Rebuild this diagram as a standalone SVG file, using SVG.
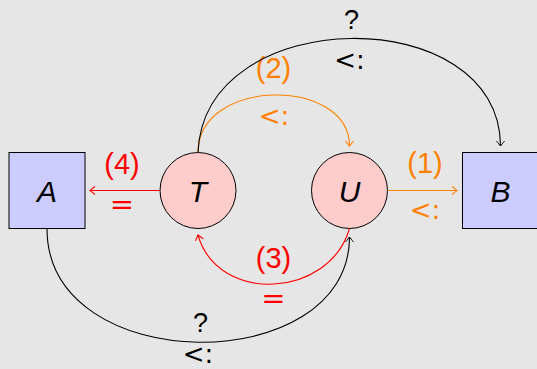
<svg xmlns="http://www.w3.org/2000/svg" width="537" height="369" viewBox="0 0 537 369">
<style>
.bg{fill:#e6e6e6}
.box{fill:#ccccff;stroke:#000;stroke-width:1}
.circ{fill:#ffcccc;stroke:#000;stroke-width:1}
.nl{font-family:"Liberation Sans",Arial,sans-serif;font-style:italic;font-size:30px;text-anchor:middle;fill:#000}
.e{fill:none;stroke-width:1.1}
.k{stroke:#000}
.o{stroke:#ff8000}
.r{stroke:#ff0000}
.lbl{font-family:"Liberation Sans",Arial,sans-serif;font-size:29px;text-anchor:middle}
.q{font-family:"Liberation Sans",Arial,sans-serif;font-size:27px;text-anchor:middle}
.op{font-family:"DejaVu Sans",sans-serif;font-size:26px;text-anchor:middle}
.eq{font-family:"DejaVu Sans",sans-serif;font-size:29px;text-anchor:middle}
.fk{fill:#000}
.fo{fill:#ff8000}
.fr{fill:#ff0000}
</style>
<defs>
<marker id="ak" markerUnits="userSpaceOnUse" markerWidth="12" markerHeight="12" refX="0" refY="0" orient="auto" overflow="visible"><path d="M-5,-4 C-3,-2.5 -1,-0.8 0,0 C-1,0.8 -3,2.5 -5,4" fill="none" stroke="#000" stroke-width="1"/></marker>
<marker id="ao" markerUnits="userSpaceOnUse" markerWidth="12" markerHeight="12" refX="0" refY="0" orient="auto" overflow="visible"><path d="M-5,-4 C-3,-2.5 -1,-0.8 0,0 C-1,0.8 -3,2.5 -5,4" fill="none" stroke="#ff8000" stroke-width="1.1"/></marker>
<marker id="ar" markerUnits="userSpaceOnUse" markerWidth="12" markerHeight="12" refX="0" refY="0" orient="auto" overflow="visible"><path d="M-5,-4 C-3,-2.5 -1,-0.8 0,0 C-1,0.8 -3,2.5 -5,4" fill="none" stroke="#ff0000" stroke-width="1.1"/></marker>
</defs>
<rect class="bg" x="0" y="0" width="537" height="369"/>
<g id="A"><rect class="box" x="9" y="152.5" width="76" height="76"/><text class="nl" x="47" y="201.5">A</text></g>
<g id="T"><circle class="circ" cx="198" cy="190.5" r="38"/><text class="nl" x="198" y="201.5">T</text></g>
<g id="U"><circle class="circ" cx="349.5" cy="190.5" r="38"/><text class="nl" x="349.5" y="201.5">U</text></g>
<g id="B"><rect class="box" x="462.5" y="152.5" width="76" height="76"/><text class="nl" x="500.5" y="201.5">B</text></g>
<g id="connectors">
<path class="e o" d="M387.5,190.5 L457,190.5" marker-end="url(#ao)"/>
<text class="lbl fo" x="425" y="173">(1)</text>
<text class="op fo" x="425" y="218.8">&lt;:</text>
<path class="e r" d="M160,190.5 L90,190.5" marker-end="url(#ar)"/>
<text class="lbl fr" x="122" y="174">(4)</text>
<text class="eq fr" x="122" y="213.5">=</text>
<path class="e o" d="M198,152.5 C198,77 349.5,77 349.5,146" marker-end="url(#ao)"/>
<text class="lbl fo" x="273.5" y="78">(2)</text>
<text class="op fo" x="274" y="125.3">&lt;:</text>
<path class="e k" d="M198,152.5 C204,2 500.5,1 500.5,146" marker-end="url(#ak)"/>
<text class="q fk" x="351.5" y="29">?</text>
<text class="op fk" x="349.5" y="69.3">&lt;:</text>
<path class="e r" d="M349.5,228.5 C329.5,298 218,305 198,235" marker-end="url(#ar)"/>
<text class="lbl fr" x="273.5" y="268">(3)</text>
<text class="eq fr" x="273.5" y="308">=</text>
<path class="e k" d="M47,228.5 C47,378.7 349.5,378.7 349.5,237" marker-end="url(#ak)"/>
<text class="q fk" x="200.5" y="332">?</text>
<text class="op fk" x="198" y="363">&lt;:</text>
</g>
</svg>
